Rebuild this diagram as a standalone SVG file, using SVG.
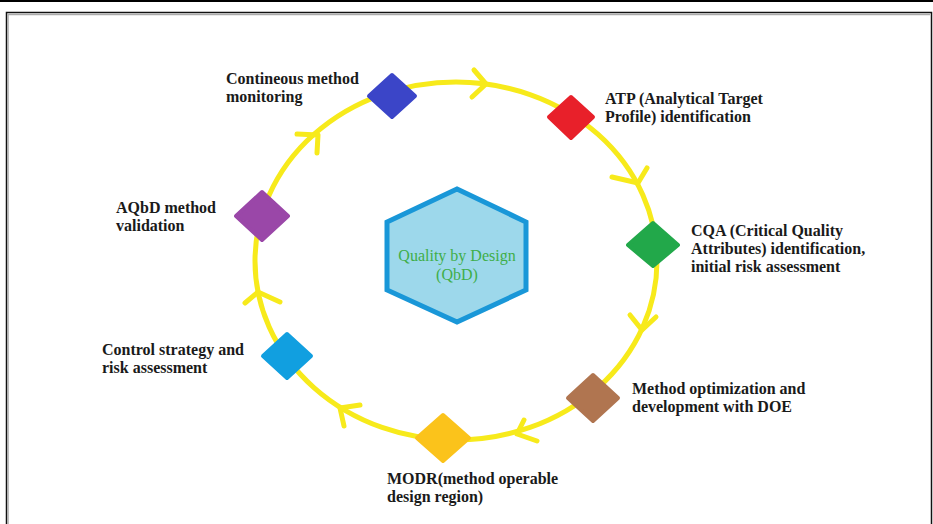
<svg xmlns="http://www.w3.org/2000/svg" width="933" height="524" viewBox="0 0 933 524">
<style>
.lbl{font-family:"Liberation Serif","Times New Roman",serif;font-weight:bold;font-size:16px;fill:#1a1a1a}
.ctr{font-family:"Liberation Serif","Times New Roman",serif;font-size:16px;fill:#3fae49;text-anchor:middle}
.ring{fill:none;stroke:#f7ea1b;stroke-width:5}
.chev{fill:none;stroke:#f7ea1b;stroke-width:5;stroke-linecap:round;stroke-linejoin:round}
.dia{stroke-width:4;stroke-linejoin:round}
</style>
<rect width="933" height="524" fill="#ffffff"/>
<line x1="0" y1="1" x2="933" y2="1" stroke="#000" stroke-width="2"/>
<path d="M6.5,524 V12.5 H931.5 V524" fill="none" stroke="#111" stroke-width="1.5"/>
<path d="M8,524 V14.5 H930" fill="none" stroke="#aaa" stroke-width="1.5"/>

<g id="connectors">
<ellipse class="ring" cx="456" cy="261" rx="201" ry="179"/>
<path class="chev" d="M474,70 L486,84 L472,97"/>
<path class="chev" d="M647,168 L638,183 L612,177"/>
<path class="chev" d="M630,315 L642,330 L656,317"/>
<path class="chev" d="M524,420 L517,434 L537,441"/>
<path class="chev" d="M360,405 L340,408 L344,426"/>
<path class="chev" d="M245,303 L258,292 L280,302"/>
<path class="chev" d="M297,134 L318,135 L317,153"/>
</g>

<g id="center">
<polygon points="457,189 526,222 526,290 457,322 387,290 387,222" fill="#9dd8eb" stroke="#1997d8" stroke-width="5" stroke-linejoin="miter"/>
<text class="ctr" x="457" y="261">Quality by Design</text>
<text class="ctr" x="457" y="280">(QbD)</text>
</g>

<g id="n-monitoring">
<polygon class="dia" points="392,75 415,96 392,117 369,96" fill="#3b45c8" stroke="#3b45c8"/>
<text class="lbl" x="226" y="84">Contineous method</text>
<text class="lbl" x="226" y="102">monitoring</text>
</g>

<g id="n-atp">
<polygon class="dia" points="571,97 593,117 571,138 549,117" fill="#e8202a" stroke="#e8202a"/>
<text class="lbl" x="605" y="104">ATP (Analytical Target</text>
<text class="lbl" x="605" y="122">Profile) identification</text>
</g>

<g id="n-cqa">
<polygon class="dia" points="653,223 678,245 653,266 628,245" fill="#22a84a" stroke="#22a84a"/>
<text class="lbl" x="691" y="236">CQA (Critical Quality</text>
<text class="lbl" x="691" y="254">Attributes) identification,</text>
<text class="lbl" x="691" y="272">initial risk assessment</text>
</g>

<g id="n-doe">
<polygon class="dia" points="593,375 618,398 593,421 568,398" fill="#b07550" stroke="#b07550"/>
<text class="lbl" x="632" y="394">Method optimization and</text>
<text class="lbl" x="632" y="412">development with DOE</text>
</g>

<g id="n-modr">
<polygon class="dia" points="443,415 469,438 443,461 417,438" fill="#fbc31b" stroke="#fbc31b"/>
<text class="lbl" x="387" y="484">MODR(method operable</text>
<text class="lbl" x="387" y="502">design region)</text>
</g>

<g id="n-control">
<polygon class="dia" points="287,334 311,356 287,378 263,356" fill="#119fe0" stroke="#119fe0"/>
<text class="lbl" x="102" y="355">Control strategy and</text>
<text class="lbl" x="102" y="373">risk assessment</text>
</g>

<g id="n-validation">
<polygon class="dia" points="262,192 288,216 262,240 236,216" fill="#9a47a8" stroke="#9a47a8"/>
<text class="lbl" x="116" y="213">AQbD method</text>
<text class="lbl" x="116" y="231">validation</text>
</g>
</svg>
